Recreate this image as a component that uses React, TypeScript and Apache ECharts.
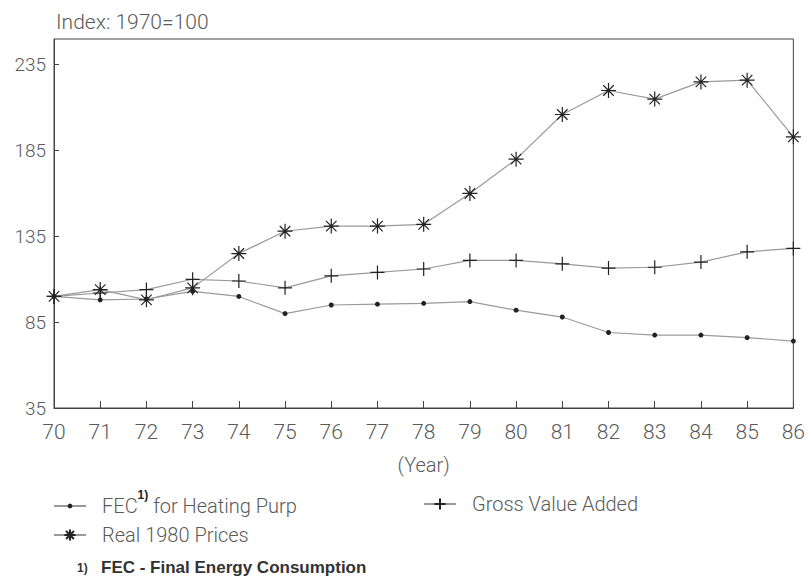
import React, { useEffect, useRef } from "react";
import * as echarts from "echarts";

const years = ["70","71","72","73","74","75","76","77","78","79","80","81","82","83","84","85","86"];
const fecHeating = [100, 98, 98.5, 103, 100, 90, 95, 95.5, 96, 97, 92, 88, 79, 77.5, 77.5, 76, 74];
const grossValueAdded = [100, 102, 104, 110, 109, 105, 112, 114, 116, 121, 121, 119, 116.5, 117, 120, 126, 128];
const real1980Prices = [100, 104, 98, 105, 125, 138, 141, 141, 142, 160, 180, 206, 220, 215, 225, 226, 193];

const S_FEC = "FEC for Heating Purp";
const S_GVA = "Gross Value Added";
const S_REAL = "Real 1980 Prices";

const FONT = "Roboto";
const TXT = "#5a5a5a";
const LINE = "#9a9a9a";
const MARK = "#222";

const asterisk = "path://M10,0L10,20M0,10L20,10M3,3L17,17M3,17L17,3";
const plus = "path://M10,0L10,20M0,10L20,10";

export default function App() {
  const ref = useRef<HTMLDivElement>(null);
  useEffect(() => {
    if (!ref.current) return;
    document.body.style.margin = "0";
    const chart = echarts.init(ref.current, null, { renderer: "svg" });
    const legendBase = {
      orient: "horizontal",
      padding: 0,
      itemWidth: 32,
      itemHeight: 14,
      textStyle: { fontFamily: FONT, fontWeight: 300, fontSize: 20, color: TXT, padding: [0, 0, 0, 11] },
    };
    chart.setOption({
      animation: false,
      backgroundColor: "#ffffff",
      title: {
        text: "Index: 1970=100",
        left: 51,
        top: 6,
        textStyle: { fontFamily: FONT, fontWeight: 300, fontSize: 21, color: TXT },
      },
      grid: {
        left: 54,
        right: 12,
        top: 39,
        bottom: 171,
        show: true,
        borderColor: "#444",
        borderWidth: 1,
        backgroundColor: "transparent",
      },
      xAxis: {
        type: "category",
        data: years,
        boundaryGap: false,
        name: "(Year)",
        nameLocation: "middle",
        nameGap: 47,
        nameTextStyle: { fontFamily: FONT, fontWeight: 300, fontSize: 20, color: TXT },
        axisLine: { lineStyle: { color: "#444", width: 1 } },
        axisTick: { inside: true, length: 7, lineStyle: { color: "#444" } },
        axisLabel: { fontFamily: FONT, fontWeight: 300, fontSize: 21, color: TXT, margin: 13 },
        splitLine: { show: false },
      },
      yAxis: {
        type: "value",
        min: 35,
        max: 250,
        interval: 50,
        axisLine: { show: true, lineStyle: { color: "#444", width: 1 } },
        axisTick: { show: true, inside: true, length: 5, lineStyle: { color: "#444" } },
        axisLabel: { fontFamily: FONT, fontWeight: 300, fontSize: 19, color: TXT, margin: 8, showMaxLabel: false },
        splitLine: { show: false },
      },
      legend: [
        { ...legendBase, data: [S_FEC], left: 53, top: 489, itemHeight: 6,
          formatter: () => "FEC{sup|1)} for Heating Purp",
          textStyle: { ...legendBase.textStyle, rich: { sup: { fontFamily: "Liberation Sans", fontWeight: "bold", fontSize: 12, color: "#222", verticalAlign: "top", padding: [0, 0, 22, 0] } } } },
        { ...legendBase, data: [S_GVA], left: 423, top: 494 },
        { ...legendBase, data: [S_REAL], left: 53, top: 525 },
      ],
      graphic: [
        {
          type: "text",
          left: 77,
          top: 559,
          style: {
            text: "{a|1)}    {b|FEC - Final Energy Consumption}",
            rich: {
              a: { fontFamily: "Liberation Sans", fontSize: 12, fontWeight: "bold", fill: "#333" },
              b: { fontFamily: "Liberation Sans", fontSize: 17, fontWeight: "bold", fill: "#333" },
            },
          },
        },
      ],
      series: [
        {
          name: S_FEC,
          type: "line",
          data: fecHeating,
          symbol: "circle",
          symbolSize: 5,
          lineStyle: { color: LINE, width: 1.2 },
          itemStyle: { color: MARK },
        },
        {
          name: S_GVA,
          type: "line",
          data: grossValueAdded,
          symbol: plus,
          symbolSize: 14,
          lineStyle: { color: LINE, width: 1.2 },
          itemStyle: { color: "none", borderColor: MARK, borderWidth: 1.2 },
        },
        {
          name: S_REAL,
          type: "line",
          data: real1980Prices,
          symbol: asterisk,
          symbolSize: 15,
          lineStyle: { color: LINE, width: 1.2 },
          itemStyle: { color: "none", borderColor: MARK, borderWidth: 1.2 },
        },
      ],
    });
    return () => chart.dispose();
  }, []);
  return <div ref={ref} style={{ width: 808, height: 579 }} />;
}
